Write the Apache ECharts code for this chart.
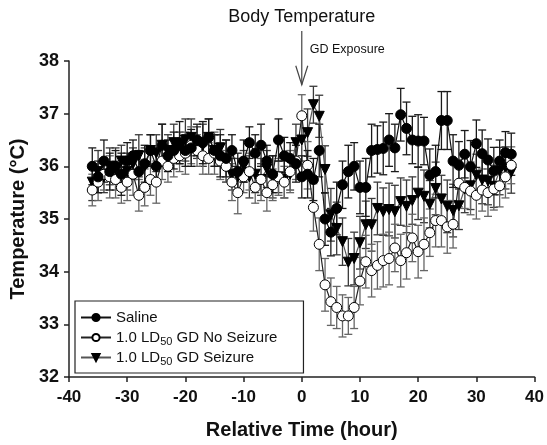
<!DOCTYPE html>
<html><head><meta charset="utf-8">
<script src="https://cdn.jsdelivr.net/npm/echarts@6/dist/echarts.min.js"></script>
<style>html,body{margin:0;padding:0;background:#fff}#c{width:547px;height:445px}</style>
</head><body><div id="c"></div>
<script>
const hours = [-36,-35,-34,-33,-32,-31,-30,-29,-28,-27,-26,-25,-24,-23,-22,-21,-20,-19,-18,-17,-16,-15,-14,-13,-12,-11,-10,-9,-8,-7,-6,-5,-4,-3,-2,-1,
  0,1,2,3,4,5,6,7,8,9,10,11,12,13,14,15,16,17,18,19,20,21,22,23,24,25,26,27,28,29,30,31,32,33,34,35,36];

const saline = [36.0,35.8,36.1,35.9,36.0,35.85,36.1,36.2,35.9,36.05,36.3,36.0,36.4,36.2,36.3,36.45,36.3,36.35,36.5,36.45,36.55,36.3,36.2,36.15,36.3,35.9,36.1,36.45,36.25,36.4,36.1,35.85,36.5,36.2,36.15,36.05,
  35.8,35.85,35.75,36.3,35.0,34.75,35.2,35.65,35.9,36.0,35.6,35.6,36.3,36.32,36.34,36.5,36.35,36.98,36.72,36.5,36.48,36.48,35.83,35.9,36.87,36.87,36.1,36.02,36.23,35.99,36.43,36.24,36.12,35.91,36.1,36.26,36.23];
const salineErr = [0.35,0.3,0.4,0.35,0.3,0.4,0.35,0.3,0.4,0.35,0.3,0.35,0.4,0.3,0.35,0.4,0.3,0.35,0.3,0.4,0.35,0.3,0.4,0.35,0.3,0.35,0.4,0.3,0.35,0.4,0.3,0.35,0.4,0.35,0.3,0.35,
  0.4,0.45,0.4,0.5,0.5,0.45,0.5,0.45,0.5,0.45,0.5,0.55,0.5,0.45,0.5,0.5,0.45,0.5,0.5,0.45,0.5,0.45,0.5,0.5,0.55,0.55,0.5,0.45,0.45,0.5,0.45,0.45,0.4,0.45,0.4,0.4,0.4];

const noSeizure = [35.55,35.7,35.85,35.8,35.75,35.6,35.7,35.85,35.45,35.6,35.75,35.7,36.1,36.0,36.15,36.2,36.25,36.4,36.3,36.2,36.15,36.25,36.1,36.0,35.7,35.5,35.8,35.9,35.6,35.75,35.5,35.65,35.8,35.7,35.9,36.1,
  36.96,36.02,35.22,34.52,33.75,33.43,33.32,33.16,33.16,33.32,33.82,34.19,34.02,34.12,34.21,34.25,34.45,34.21,34.36,34.64,34.38,34.52,34.74,34.97,34.97,34.85,34.9,35.68,35.6,35.53,35.45,35.55,35.5,35.57,35.63,35.8,36.02];
const noSeizureErr = [0.3,0.35,0.3,0.4,0.35,0.3,0.35,0.4,0.3,0.35,0.3,0.4,0.35,0.3,0.35,0.3,0.4,0.35,0.3,0.35,0.3,0.4,0.35,0.3,0.35,0.4,0.3,0.35,0.3,0.4,0.35,0.3,0.35,0.3,0.4,0.35,
  0.4,0.45,0.45,0.5,0.5,0.45,0.4,0.4,0.35,0.4,0.45,0.5,0.5,0.45,0.5,0.5,0.45,0.5,0.5,0.45,0.5,0.5,0.45,0.5,0.5,0.5,0.45,0.45,0.4,0.45,0.45,0.4,0.45,0.4,0.4,0.4,0.35];

const seizure = [35.7,35.9,35.8,36.0,35.95,36.1,35.9,36.05,36.2,36.0,36.3,36.25,36.4,36.3,36.45,36.35,36.5,36.55,36.45,36.4,36.55,36.3,36.35,36.1,35.85,35.8,36.0,35.8,35.85,35.75,35.95,35.8,35.8,35.75,35.85,36.45,
  36.5,36.64,37.17,36.95,35.94,35.08,34.82,34.57,34.18,34.25,34.55,34.89,34.89,35.2,35.14,35.18,35.14,35.33,35.24,35.35,35.49,35.43,35.28,35.58,35.38,35.24,35.16,35.25,35.57,35.63,35.83,35.74,35.72,35.62,35.91,35.97,35.89];
const seizureErr = [0.35,0.4,0.3,0.35,0.4,0.3,0.35,0.3,0.4,0.35,0.3,0.35,0.4,0.3,0.35,0.3,0.4,0.35,0.3,0.4,0.35,0.3,0.35,0.4,0.3,0.35,0.3,0.4,0.35,0.3,0.35,0.4,0.3,0.35,0.3,0.35,
  0.4,0.45,0.35,0.4,0.45,0.5,0.5,0.45,0.45,0.5,0.5,0.45,0.5,0.5,0.45,0.5,0.5,0.45,0.5,0.45,0.5,0.5,0.45,0.5,0.45,0.5,0.5,0.45,0.45,0.45,0.4,0.45,0.45,0.4,0.45,0.4,0.4];

const names = ['Saline','1.0 LD50 GD No Seizure','1.0 LD50 GD Seizure'];
const xTicks = [-40,-30,-20,-10,0,10,20,30,40];
const yTicks = [32,33,34,35,36,37,38];

const FONT = '"Liberation Sans", Arial, sans-serif';

function errSeries(id, vals, errs, color){
  return {
    type:'custom', id:id, name:id, silent:true, z:1, clip:false,
    encode:{x:0,y:1},
    data: hours.map((h,i)=>[h, vals[i], errs[i]]),
    renderItem: function(params, api){
      const x = api.value(0), y = api.value(1), e = api.value(2);
      const t = api.coord([x, y+e]), b = api.coord([x, y-e]);
      const w = 4;
      const st = {stroke:color, lineWidth:1.3};
      return {type:'group', children:[
        {type:'line', shape:{x1:t[0],y1:t[1],x2:b[0],y2:b[1]}, style:st},
        {type:'line', shape:{x1:t[0]-w,y1:t[1],x2:t[0]+w,y2:t[1]}, style:st},
        {type:'line', shape:{x1:b[0]-w,y1:b[1],x2:b[0]+w,y2:b[1]}, style:st}
      ]};
    }
  };
}

function lineSeries(name, vals, lineColor, symbol, fill, rot, size){
  return {
    type:'line', name:name, z:3,
    data: hours.map((h,i)=>[h, vals[i]]),
    symbol: symbol, symbolSize: size, symbolRotate: rot||0,
    showAllSymbol:true,
    lineStyle:{color:lineColor, width:1.2},
    itemStyle:{color:fill, borderColor:'#000', borderWidth:1},
    emphasis:{disabled:true},
    animation:false
  };
}

const chart = echarts.init(document.getElementById('c'), null, {renderer:'canvas'});
const axisCommon = {
  axisLine:{show:true, onZero:false, lineStyle:{color:'#222', width:1.5}},
  axisTick:{show:true, inside:false, length:5, lineStyle:{color:'#222', width:1.5}},
  splitLine:{show:false},
  nameTextStyle:{fontFamily:FONT, fontWeight:'bold', fontSize:20, color:'#111'}
};
chart.setOption({
  animation:false,
  backgroundColor:'#fff',
  grid:{left:69, right:11, top:61, bottom:66, containLabel:false},
  xAxis: Object.assign({}, axisCommon, {
    type:'value', min:xTicks[0], max:xTicks[xTicks.length-1], interval:10,
    name:'Relative Time (hour)', nameLocation:'middle', nameGap:43,
    axisLabel:{fontFamily:FONT, fontWeight:'bold', fontSize:17, color:'#111', margin:12}
  }),
  yAxis: Object.assign({}, axisCommon, {
    type:'value', min:yTicks[0], max:yTicks[yTicks.length-1], interval:1,
    name:'Temperature (°C)', nameLocation:'middle', nameGap:40, nameRotate:90,
    axisLabel:{fontFamily:FONT, fontWeight:'bold', fontSize:18, color:'#111', margin:10}
  }),
  legend:{
    data:names, orient:'vertical', left:75, top:301,
    itemWidth:30, itemHeight:9, itemGap:1,
    padding:[7,26,6,5],
    borderColor:'#222', borderWidth:1.2,
    selectedMode:false,
    formatter: function(n){ return n.replace('LD50','LD{sub|50}'); },
    textStyle:{fontFamily:FONT, fontSize:15, color:'#111', lineHeight:19,
      rich:{sub:{fontFamily:FONT, fontSize:11, color:'#111', lineHeight:19, verticalAlign:'bottom', padding:[7,0,0,0]}}}
  },
  series:[
    errSeries('errS', seizure, seizureErr, '#3a3a3a'),
    errSeries('errN', noSeizure, noSeizureErr, '#666'),
    errSeries('errSal', saline, salineErr, '#1a1a1a'),
    lineSeries(names[2], seizure, '#555', 'triangle', '#000', 180, 10),
    lineSeries(names[1], noSeizure, '#222', 'circle', '#fff', 0, 10),
    lineSeries(names[0], saline, '#111', 'circle', '#000', 0, 10)
  ]
});

// Annotation: title, arrow at t = 0, "GD Exposure"
const arrowTop = chart.convertToPixel({gridIndex:0}, [0, 38.57]);
const arrowTip = chart.convertToPixel({gridIndex:0}, [0, 37.55]);
const ax = arrowTip[0];
chart.setOption({
  graphic:[
    {type:'text', x:ax, y:8, style:{text:'Body Temperature', fontFamily:FONT, fontSize:18, fill:'#111', align:'center', verticalAlign:'top'}},
    {type:'text', x:ax+8, y:43, style:{text:'GD Exposure', fontFamily:FONT, fontSize:12.5, fill:'#111', align:'left', verticalAlign:'top'}},
    {type:'line', shape:{x1:ax, y1:arrowTop[1], x2:ax, y2:arrowTip[1]}, style:{stroke:'#444', lineWidth:1.2}},
    {type:'polyline', shape:{points:[[ax-6, arrowTip[1]-19],[ax, arrowTip[1]],[ax+6, arrowTip[1]-19]]}, style:{stroke:'#444', lineWidth:1.2, fill:null}}
  ]
});
</script>
</body></html>
